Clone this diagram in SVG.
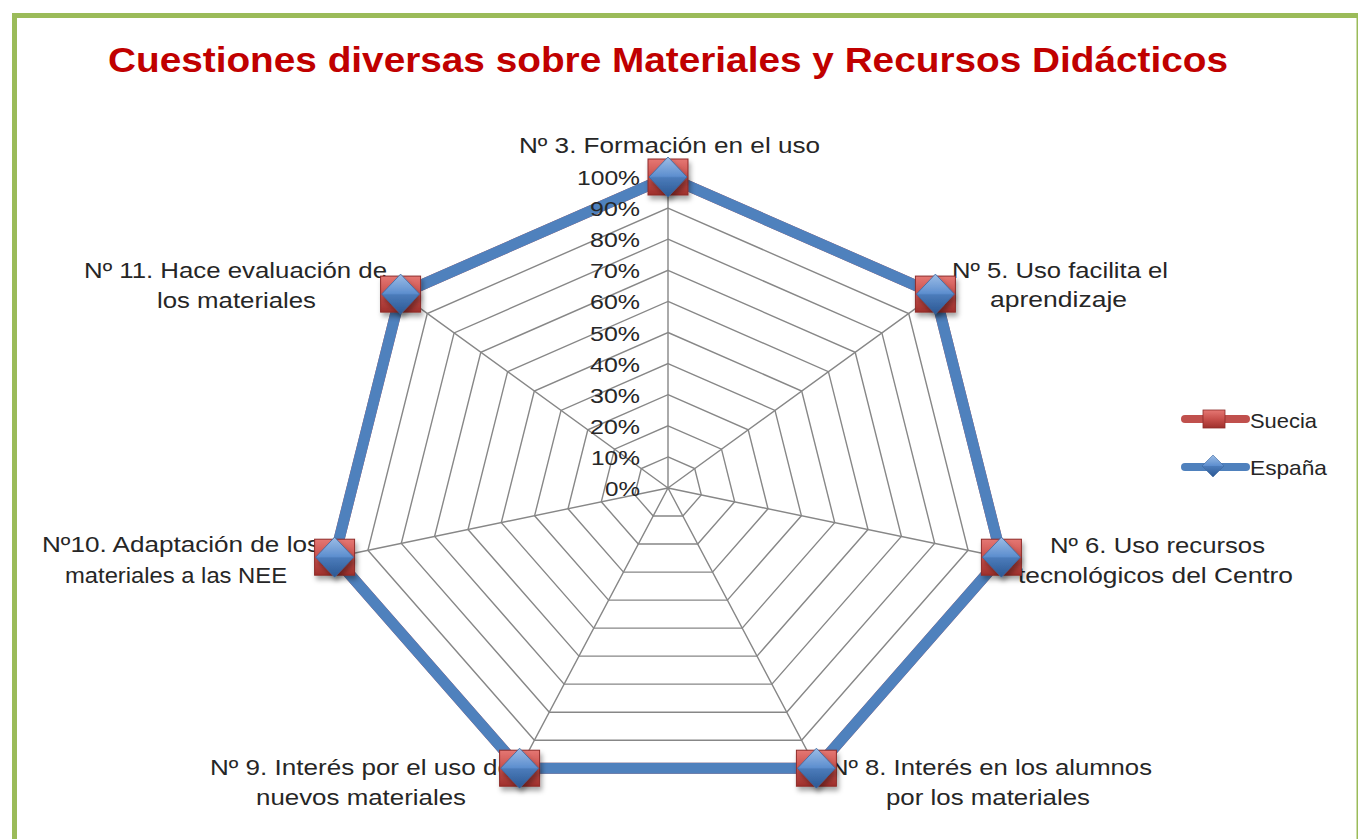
<svg xmlns="http://www.w3.org/2000/svg" xmlns:xlink="http://www.w3.org/1999/xlink" width="1358" height="839" viewBox="0 0 1358 839">
<style>
.lbl{font-family:"Liberation Sans",Arial,sans-serif;font-size:22px;fill:#262626;text-anchor:middle}
.tick{font-family:"Liberation Sans",Arial,sans-serif;font-size:21px;fill:#262626;text-anchor:end}
.leg{font-family:"Liberation Sans",Arial,sans-serif;font-size:21px;fill:#262626}
.title{font-family:"Liberation Sans",Arial,sans-serif;font-size:35px;font-weight:bold;fill:#C00000;text-anchor:middle}
.grid{fill:none;stroke:#878787;stroke-width:1.4}
</style>
<defs>
<linearGradient id="gRed" x1="0" y1="0" x2="0" y2="1">
<stop offset="0" stop-color="#E57773"/>
<stop offset="0.5" stop-color="#C8504C"/>
<stop offset="1" stop-color="#9E302C"/>
</linearGradient>
<linearGradient id="gBlue" x1="0" y1="0" x2="0" y2="1">
<stop offset="0" stop-color="#9CBDE6"/>
<stop offset="0.48" stop-color="#5E8FCF"/>
<stop offset="0.52" stop-color="#4B7BBA"/>
<stop offset="1" stop-color="#2B5893"/>
</linearGradient>
<filter id="sh" x="-50%" y="-50%" width="200%" height="200%">
<feDropShadow dx="2" dy="4" stdDeviation="2.5" flood-color="#000" flood-opacity="0.35"/>
</filter>
<rect id="sq" x="-20" y="-18" width="40" height="36" fill="url(#gRed)" stroke="#8E2B28" stroke-width="1"/>
<path id="dm" d="M0,-20 L19,0 L0,20 L-19,0Z" fill="url(#gBlue)" stroke="#3A679F" stroke-width="0.8"/>
</defs>
<rect width="1358" height="839" fill="#fff"/>
<rect x="14.5" y="15.5" width="1344.5" height="900" fill="#fff" stroke="#9BBB59" stroke-width="5"/>

<text class="title" x="668" y="72" textLength="1120" lengthAdjust="spacingAndGlyphs">Cuestiones diversas sobre Materiales y Recursos Didácticos</text>

<g id="grid" transform="translate(668,488)">
<polygon class="grid" points="0,-31.1 26.7,-19.4 33.3,6.9 14.8,28.0 -14.8,28.0 -33.3,6.9 -26.7,-19.4"/>
<polygon class="grid" points="0,-62.2 53.5,-38.8 66.7,13.8 29.7,56.0 -29.7,56.0 -66.7,13.8 -53.5,-38.8"/>
<polygon class="grid" points="0,-93.3 80.2,-58.2 100.0,20.8 44.5,84.1 -44.5,84.1 -100.0,20.8 -80.2,-58.2"/>
<polygon class="grid" points="0,-124.4 107.0,-77.6 133.4,27.7 59.4,112.1 -59.4,112.1 -133.4,27.7 -107.0,-77.6"/>
<polygon class="grid" points="0,-155.5 133.7,-97.0 166.7,34.6 74.2,140.1 -74.2,140.1 -166.7,34.6 -133.7,-97.0"/>
<polygon class="grid" points="0,-186.6 160.4,-116.3 200.0,41.5 89.0,168.1 -89.0,168.1 -200.0,41.5 -160.4,-116.3"/>
<polygon class="grid" points="0,-217.7 187.2,-135.7 233.4,48.4 103.9,196.1 -103.9,196.1 -233.4,48.4 -187.2,-135.7"/>
<polygon class="grid" points="0,-248.8 213.9,-155.1 266.7,55.4 118.7,224.2 -118.7,224.2 -266.7,55.4 -213.9,-155.1"/>
<polygon class="grid" points="0,-279.9 240.7,-174.5 300.1,62.3 133.6,252.2 -133.6,252.2 -300.1,62.3 -240.7,-174.5"/>
<polygon class="grid" points="0,-311 267.4,-193.9 333.4,69.2 148.4,280.2 -148.4,280.2 -333.4,69.2 -267.4,-193.9"/>
<path class="grid" d="M0,0L0,-311M0,0L267.4,-193.9M0,0L333.4,69.2M0,0L148.4,280.2M0,0L-148.4,280.2M0,0L-333.4,69.2M0,0L-267.4,-193.9"/>
</g>

<g id="connectors">
<polygon id="suecia-line" points="668,177 935.4,294.1 1001.4,557.2 816.4,768.2 519.6,768.2 334.6,557.2 400.6,294.1" fill="none" stroke="#C0504D" stroke-width="11" stroke-linejoin="round"/>
<polygon id="espana-line" points="668,177 935.4,294.1 1001.4,557.2 816.4,768.2 519.6,768.2 334.6,557.2 400.6,294.1" fill="none" stroke="#4F81BD" stroke-width="11" stroke-linejoin="round"/>
</g>

<g id="ticks">
<text class="tick" x="640" y="185" textLength="63" lengthAdjust="spacingAndGlyphs">100%</text>
<text class="tick" x="640" y="216" textLength="50" lengthAdjust="spacingAndGlyphs">90%</text>
<text class="tick" x="640" y="247" textLength="50" lengthAdjust="spacingAndGlyphs">80%</text>
<text class="tick" x="640" y="278" textLength="50" lengthAdjust="spacingAndGlyphs">70%</text>
<text class="tick" x="640" y="309" textLength="50" lengthAdjust="spacingAndGlyphs">60%</text>
<text class="tick" x="640" y="341" textLength="50" lengthAdjust="spacingAndGlyphs">50%</text>
<text class="tick" x="640" y="372" textLength="50" lengthAdjust="spacingAndGlyphs">40%</text>
<text class="tick" x="640" y="403" textLength="50" lengthAdjust="spacingAndGlyphs">30%</text>
<text class="tick" x="640" y="434" textLength="50" lengthAdjust="spacingAndGlyphs">20%</text>
<text class="tick" x="640" y="465" textLength="49" lengthAdjust="spacingAndGlyphs">10%</text>
<text class="tick" x="640" y="496" textLength="35" lengthAdjust="spacingAndGlyphs">0%</text>
</g>

<g id="axis3"><text class="lbl" x="669.5" y="153" textLength="301" lengthAdjust="spacingAndGlyphs">Nº 3. Formación en el uso</text></g>
<g id="axis5"><text class="lbl" x="1060" y="278" textLength="216" lengthAdjust="spacingAndGlyphs">Nº 5. Uso facilita el</text><text class="lbl" x="1058.5" y="307" textLength="137" lengthAdjust="spacingAndGlyphs">aprendizaje</text></g>
<g id="axis6"><text class="lbl" x="1157.5" y="553" textLength="215" lengthAdjust="spacingAndGlyphs">Nº 6. Uso recursos</text><text class="lbl" x="1155.5" y="583" textLength="275" lengthAdjust="spacingAndGlyphs">tecnológicos del Centro</text></g>
<g id="axis8"><text class="lbl" x="991" y="775" textLength="322" lengthAdjust="spacingAndGlyphs">Nº 8. Interés en los alumnos</text><text class="lbl" x="988" y="805" textLength="204" lengthAdjust="spacingAndGlyphs">por los materiales</text></g>
<g id="axis9"><text class="lbl" x="361" y="775" textLength="302" lengthAdjust="spacingAndGlyphs">Nº 9. Interés por el uso de</text><text class="lbl" x="361" y="805" textLength="210" lengthAdjust="spacingAndGlyphs">nuevos materiales</text></g>
<g id="axis10"><text class="lbl" x="181" y="552" textLength="278" lengthAdjust="spacingAndGlyphs">Nº10. Adaptación de los</text><text class="lbl" x="176" y="583" textLength="222" lengthAdjust="spacingAndGlyphs">materiales a las NEE</text></g>
<g id="axis11"><text class="lbl" x="235.5" y="278" textLength="303" lengthAdjust="spacingAndGlyphs">Nº 11. Hace evaluación de</text><text class="lbl" x="236.5" y="308" textLength="159" lengthAdjust="spacingAndGlyphs">los materiales</text></g>

<g id="markers-suecia" filter="url(#sh)">
<use xlink:href="#sq" x="668" y="177"/>
<use xlink:href="#sq" x="935.4" y="294.1"/>
<use xlink:href="#sq" x="1001.4" y="557.2"/>
<use xlink:href="#sq" x="816.4" y="768.2"/>
<use xlink:href="#sq" x="519.6" y="768.2"/>
<use xlink:href="#sq" x="334.6" y="557.2"/>
<use xlink:href="#sq" x="400.6" y="294.1"/>
</g>
<g id="markers-espana" filter="url(#sh)">
<use xlink:href="#dm" x="668" y="177"/>
<use xlink:href="#dm" x="935.4" y="294.1"/>
<use xlink:href="#dm" x="1001.4" y="557.2"/>
<use xlink:href="#dm" x="816.4" y="768.2"/>
<use xlink:href="#dm" x="519.6" y="768.2"/>
<use xlink:href="#dm" x="334.6" y="557.2"/>
<use xlink:href="#dm" x="400.6" y="294.1"/>
</g>

<g id="legend">
<g id="legend-suecia">
<line x1="1185" y1="419" x2="1246" y2="419" stroke="#C0504D" stroke-width="8" stroke-linecap="round"/>
<rect x="1203" y="410" width="22" height="18" fill="url(#gRed)" stroke="#8E2B28" stroke-width="0.8"/>
<text class="leg" x="1250" y="428" textLength="67" lengthAdjust="spacingAndGlyphs">Suecia</text>
</g>
<g id="legend-espana">
<line x1="1185" y1="467" x2="1246" y2="467" stroke="#4F81BD" stroke-width="8" stroke-linecap="round"/>
<path d="M1213,455 L1224,466 L1213,477 L1202,466Z" fill="url(#gBlue)" stroke="#3A679F" stroke-width="0.6"/>
<text class="leg" x="1250" y="475" textLength="77" lengthAdjust="spacingAndGlyphs">España</text>
</g>
</g>
</svg>
